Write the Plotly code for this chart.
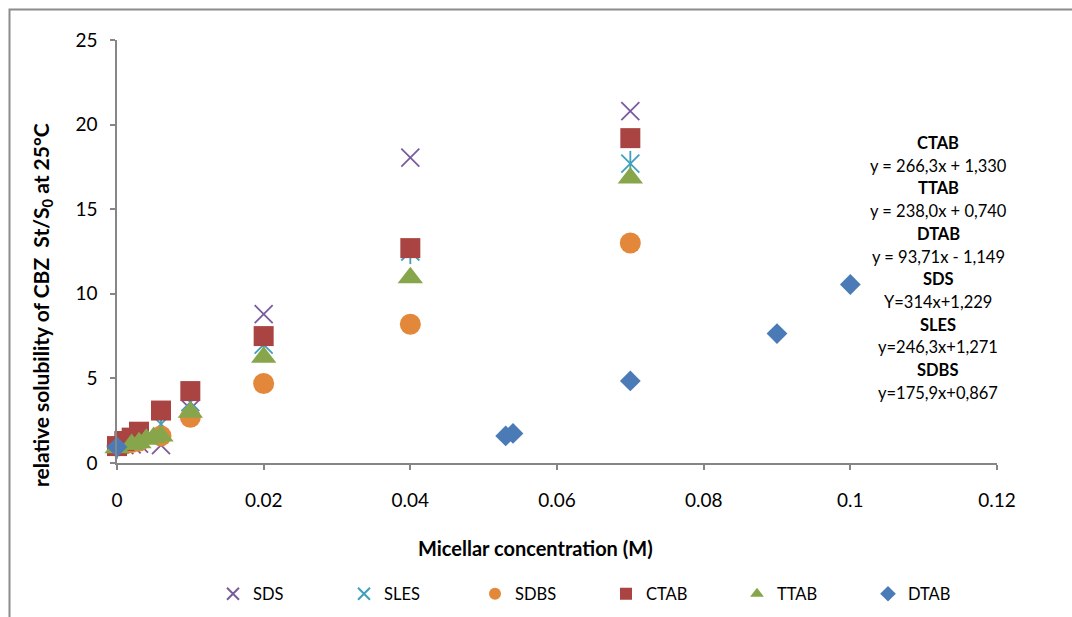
import plotly.graph_objects as go

# Micellar concentration (M) and relative solubility St/S0 for each surfactant
sds_x = [0, 0.001, 0.002, 0.003, 0.006, 0.01, 0.02, 0.04, 0.07]
sds_y = [1.0, 1.05, 1.1, 1.15, 1.05, 3.2, 8.8, 18.05, 20.8]

sles_x = [0, 0.001, 0.002, 0.003, 0.006, 0.01, 0.02, 0.04, 0.07]
sles_y = [1.0, 1.2, 1.4, 1.6, 2.3, 3.6, 7.0, 12.5, 17.7]

sdbs_x = [0, 0.001, 0.002, 0.003, 0.006, 0.01, 0.02, 0.04, 0.07]
sdbs_y = [1.0, 1.1, 1.2, 1.3, 1.6, 2.7, 4.7, 8.2, 13.0]

ctab_x = [0, 0.001, 0.002, 0.003, 0.006, 0.01, 0.02, 0.04, 0.07]
ctab_y = [1.0, 1.3, 1.5, 1.85, 3.1, 4.25, 7.5, 12.7, 19.2]

ttab_x = [0, 0.002, 0.003, 0.004, 0.005, 0.006, 0.01, 0.02, 0.04, 0.07]
ttab_y = [0.9, 1.1, 1.2, 1.4, 1.5, 1.6, 3.0, 6.25, 10.95, 16.85]

dtab_x = [0, 0.053, 0.054, 0.07, 0.09, 0.1]
dtab_y = [0.95, 1.6, 1.75, 4.85, 7.65, 10.55]

# Linear fit equations listed beside the plot
eq_names = ["CTAB", "TTAB", "DTAB", "SDS", "SLES", "SDBS"]
eq_texts = ["y = 266,3x + 1,330", "y = 238,0x + 0,740", "y = 93,71x - 1,149",
            "Y=314x+1,229", "y=246,3x+1,271", "y=175,9x+0,867"]

FONT = "Lato"
AXIS_GREY = "#868686"

fig = go.Figure()

fig.add_trace(go.Scatter(
    x=sds_x, y=sds_y, mode="markers", name="SDS", cliponaxis=False,
    marker=dict(symbol="x-thin", size=18, color="#7a5c9e",
                line=dict(width=1.8, color="#7a5c9e"))))

fig.add_trace(go.Scatter(
    x=sles_x, y=sles_y, mode="markers", name="SLES", cliponaxis=False,
    legendgroup="sles",
    marker=dict(symbol="x-thin", size=18, color="#3f9fbd",
                line=dict(width=1.8, color="#3f9fbd"))))
fig.add_trace(go.Scatter(
    x=sles_x, y=sles_y, mode="markers", name="SLES", cliponaxis=False,
    legendgroup="sles", showlegend=False, hoverinfo="skip",
    marker=dict(symbol="line-ns", size=18, color="#3f9fbd",
                line=dict(width=1.8, color="#3f9fbd"))))

fig.add_trace(go.Scatter(
    x=sdbs_x, y=sdbs_y, mode="markers", name="SDBS", cliponaxis=False,
    marker=dict(symbol="circle", size=21, color="#e3883a", line=dict(width=0))))

fig.add_trace(go.Scatter(
    x=ctab_x, y=ctab_y, mode="markers", name="CTAB", cliponaxis=False,
    marker=dict(symbol="square", size=20, color="#a94442", line=dict(width=0))))

fig.add_trace(go.Scatter(
    x=ttab_x, y=ttab_y, mode="markers", name="TTAB", cliponaxis=False,
    marker=dict(symbol="triangle-up", size=22, color="#87a64b", line=dict(width=0))))

fig.add_trace(go.Scatter(
    x=dtab_x, y=dtab_y, mode="markers", name="DTAB", cliponaxis=False,
    marker=dict(symbol="diamond", size=16, color="#4a7bb7", line=dict(width=0))))

# plot area geometry in pixels (used to place text around it)
L, R, T, B = 117, 75, 40, 154
W, H = 1072, 617
pw, ph = W - L - R, H - T - B


def px_x(px):
    return (px - L) / pw


def px_y(py):
    return (T + ph - py) / ph


annotations = []
line_step = 22.7
for i, (name, eq) in enumerate(zip(eq_names, eq_texts)):
    annotations.append(dict(
        text=f"<b>{name}</b>", x=px_x(938), y=px_y(143 + 2 * i * line_step),
        xref="paper", yref="paper", showarrow=False, xanchor="center", yanchor="middle",
        font=dict(family=FONT, size=16.5, color="black")))
    annotations.append(dict(
        text=eq, x=px_x(938), y=px_y(143 + (2 * i + 1) * line_step),
        xref="paper", yref="paper", showarrow=False, xanchor="center", yanchor="middle",
        font=dict(family=FONT, size=16.5, color="black")))

annotations.append(dict(
    text="<b>Micellar concentration (M)</b>", x=px_x(535), y=px_y(548),
    xref="paper", yref="paper", showarrow=False, xanchor="center", yanchor="middle",
    font=dict(family=FONT, size=20, color="black")))
annotations.append(dict(
    text="<b>relative solubility of CBZ&nbsp; St/S<sub>0</sub> at 25°C</b>",
    x=px_x(42), y=px_y(305), textangle=-90,
    xref="paper", yref="paper", showarrow=False, xanchor="center", yanchor="middle",
    font=dict(family=FONT, size=21, color="black")))

axis_common = dict(
    showgrid=False, zeroline=False, showline=True, linecolor=AXIS_GREY, linewidth=1.5,
    ticks="outside", ticklen=5, tickcolor=AXIS_GREY, tickwidth=1.5,
    tickfont=dict(family=FONT, size=19, color="black"),
)

fig.update_layout(
    width=W, height=H,
    margin=dict(l=L, r=R, t=T, b=B, pad=0, autoexpand=False),
    paper_bgcolor="white", plot_bgcolor="white",
    xaxis=dict(range=[0, 0.12], tick0=0, dtick=0.02, ticklabelstandoff=14, **axis_common),
    yaxis=dict(range=[0, 25], tick0=0, dtick=5, ticklabelstandoff=9, **axis_common),
    showlegend=True,
    legend=dict(orientation="h", x=px_x(213), xanchor="left", y=px_y(594), yanchor="middle",
                entrywidth=86, entrywidthmode="pixels", bgcolor="rgba(0,0,0,0)",
                font=dict(family=FONT, size=16.5, color="black"), itemsizing="constant"),
    annotations=annotations,
    shapes=[dict(type="rect", xref="paper", yref="paper",
                 x0=px_x(9.5), x1=px_x(1120), y0=px_y(680), y1=px_y(9.5),
                 line=dict(color="#8c8c8c", width=2), layer="below")],
)

fig.write_html("out.html")
